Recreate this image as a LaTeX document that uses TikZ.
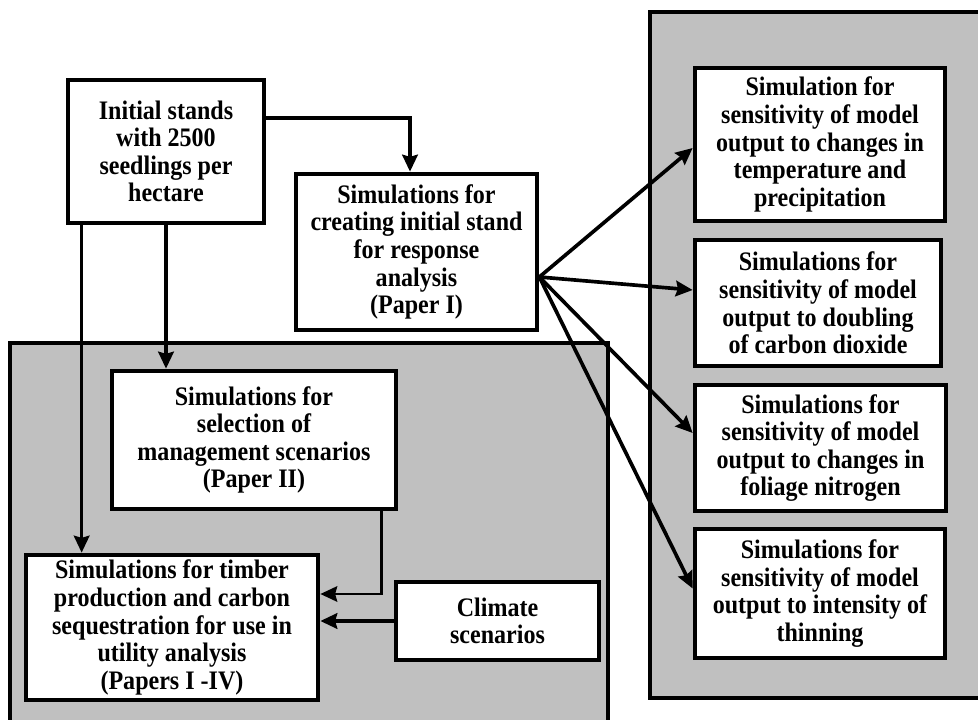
\documentclass[tikz,border=0pt]{standalone}
\usepackage{fontspec}
\setmainfont{Liberation Serif}[FakeStretch=0.9]
\definecolor{PanelGray}{HTML}{C0C0C0}
\usetikzlibrary{arrows.meta,calc}

\begin{document}
\begin{tikzpicture}[x=0.025cm,y=-0.025cm,
    box/.style={draw=black,line width=3.3pt,fill=white,inner sep=0pt,
                align=center,font=\bfseries\fontsize{19}{19.6}\selectfont},
    panel/.style={draw=black,line width=2.6pt},
    arr/.style={-{Stealth[length=12pt,width=11pt,inset=1.5pt]},line width=2.6pt}]

  \useasboundingbox (0,0) rectangle (978,720);

  % grey panels (open towards the page edge)
  \fill[PanelGray] (10,343) rectangle (608,720);
  \draw[panel] (10,720) -- (10,343) -- (608,343) -- (608,720);
  \fill[PanelGray] (650,12) rectangle (978,698);
  \draw[panel] (978,12) -- (650,12) -- (650,698) -- (978,698);

  \node[box,minimum width=4.9cm,minimum height=3.575cm] (init) at (166,151.5)
    {Initial stands\\with 2500\\seedlings per\\hectare};
  \node[box,minimum width=6.025cm,minimum height=3.9cm] (create) at (416.5,252)
    {Simulations for\\creating initial stand\\for response\\analysis\\(Paper I)};
  \node[box,minimum width=7.1cm,minimum height=3.45cm] (sel) at (254,440)
    {Simulations for\\selection of\\management scenarios\\(Paper II)};
  \node[box,minimum width=7.3cm,minimum height=3.625cm] (timber) at (172,627.5)
    {Simulations for timber\\production and carbon\\sequestration for use in\\utility analysis\\(Papers I -IV)};
  \node[box,minimum width=5.075cm,minimum height=1.95cm] (clim) at (497.5,621)
    {Climate\\scenarios};

  % sensitivity runs
  \node[box,minimum width=6.25cm,minimum height=3.825cm] (s1) at (820,144.5)
    {Simulation for\\sensitivity of model\\output to changes in\\temperature and\\precipitation};
  \node[box,minimum width=6.15cm,minimum height=3.15cm] (s2) at (818,303)
    {Simulations for\\sensitivity of model\\output to doubling\\of carbon dioxide};
  \node[box,minimum width=6.275cm,minimum height=3.15cm] (s3) at (820.5,448)
    {Simulations for\\sensitivity of model\\output to changes in\\foliage nitrogen};
  \node[box,minimum width=6.25cm,minimum height=3.225cm] (s4) at (820,593.5)
    {Simulations for\\sensitivity of model\\output to intensity of\\thinning};

  \coordinate (lft) at ($(init.south west)+(16,0)$);
  \draw[arr] ($(init.east)+(0,-33.5)$) -| ($(create.north)+(-6.5,0)$);
  \draw[arr] (init.south) -- (init.south |- sel.north);
  \draw[arr] (lft) -- (lft |- timber.north);
  \draw[arr,line width=1.8pt] ($(sel.south east)+(-17,0)$) |- ($(timber.east)+(0,-33.5)$);
  \draw[arr] (clim.west) -- (clim.west -| timber.east);

  % fan out to the sensitivity boxes
  \coordinate (fan) at ($(create.east)+(0,25)$);
  \foreach \b/\d in {s1/3.5,s2/-13,s3/-15,s4/-5}{
    \draw[arr] (fan) -- ($(\b.west)+(0,\d)$);
  }
\end{tikzpicture}
\end{document}
